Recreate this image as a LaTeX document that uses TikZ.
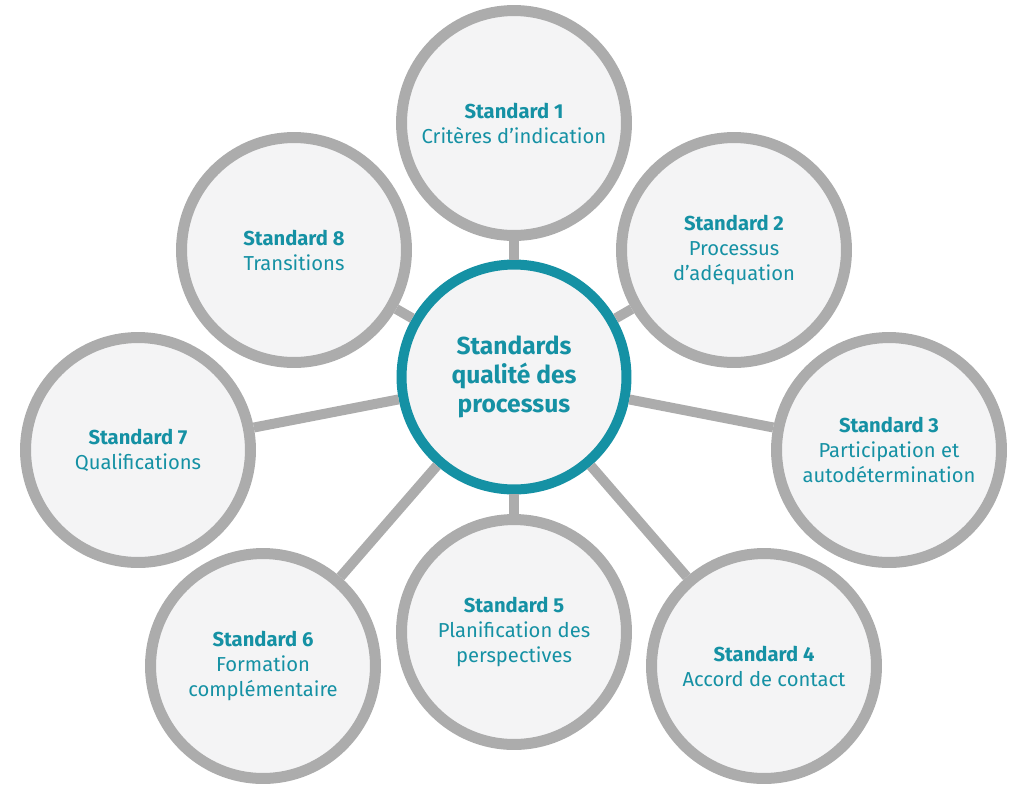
\documentclass[tikz,border=0pt]{standalone}
\usepackage{fontspec}
\setmainfont{Fira Sans}
\definecolor{petrol}{HTML}{1591A4}
\definecolor{ring}{HTML}{ACACAC}
\definecolor{disc}{HTML}{F4F4F5}
\tikzset{std/.style={circle, draw=ring, line width=0.22cm, fill=disc,
         minimum size=4.5cm, inner sep=0pt, align=center, text=petrol,
         font=\fontsize{11.5}{14.2}\selectfont},
         hub/.style={std, draw=petrol, line width=0.2cm,
         font=\bfseries\fontsize{14}{16.5}\selectfont},
         link/.style={draw=ring, line width=0.2cm}}

\begin{document}
\begin{tikzpicture}[x=0.02cm, y=-0.02cm]
  \useasboundingbox (0,0) rectangle (1024,799);
  \node[hub] (hub) at (514,377) {Standards\\qualité des\\processus};
  \node[std] (s1) at (514,123) {\textbf{Standard 1}\\Critères d’indication};
  \node[std] (s2) at (734,250) {\textbf{Standard 2}\\Processus\\d’adéquation};
  \node[std] (s3) at (889,450) {\textbf{Standard 3}\\Participation et\\autodétermination};
  \node[std] (s4) at (764,666) {\textbf{Standard 4}\\Accord de contact};
  \node[std] (s5) at (514,632) {\textbf{Standard 5}\\Planification des\\perspectives};
  \node[std] (s6) at (263,666) {\textbf{Standard 6}\\Formation\\complémentaire};
  \node[std] (s7) at (138,450) {\textbf{Standard 7}\\Qualifications};
  \node[std] (s8) at (294,250) {\textbf{Standard 8}\\Transitions};
  \foreach \n in {1,...,8}
    \draw[link] (hub) -- (s\n);
\end{tikzpicture}
\end{document}
